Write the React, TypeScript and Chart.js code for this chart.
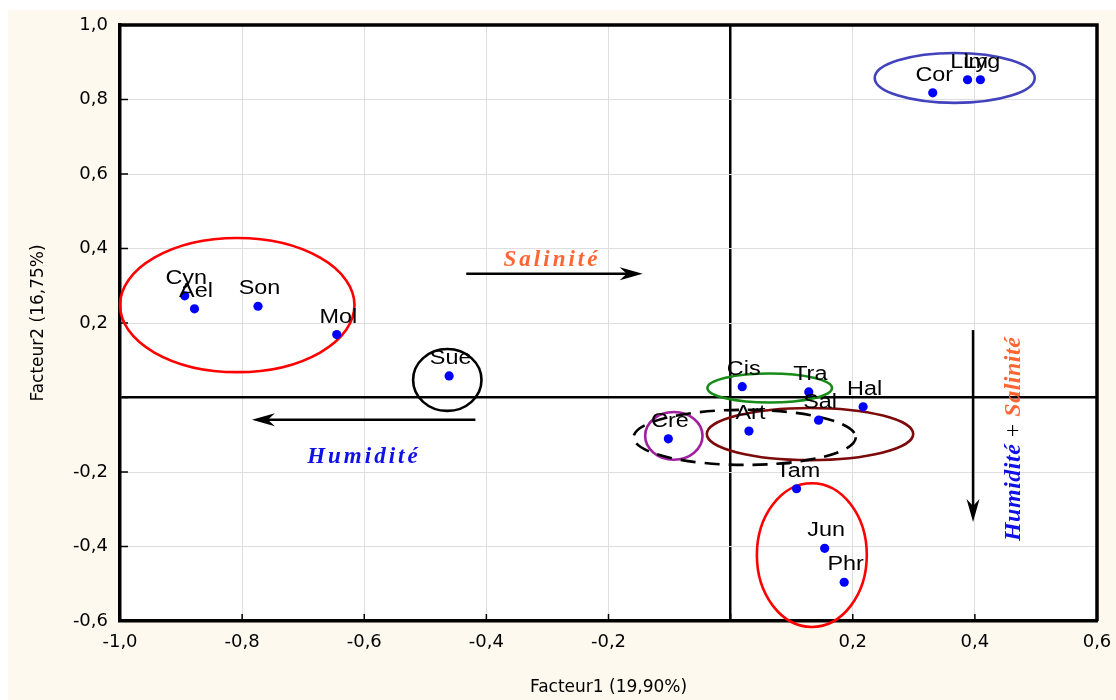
import React, { useEffect, useRef } from 'react';
import { Chart, registerables } from 'chart.js';

Chart.register(...registerables);

// ---- Data ----
const speciesLabels = ['Cor', 'Lim', 'Lyg', 'Cyn', 'Ael', 'Son', 'Mol', 'Sue', 'Cis', 'Tra', 'Hal', 'Sal', 'Art', 'Cre', 'Tam', 'Jun', 'Phr'];
const factor1 = [0.331, 0.388, 0.409, -0.894, -0.878, -0.774, -0.645, -0.461, 0.019, 0.128, 0.217, 0.144, 0.030, -0.102, 0.108, 0.154, 0.186];
const factor2 = [0.818, 0.853, 0.853, 0.273, 0.238, 0.245, 0.169, 0.058, 0.029, 0.015, -0.025, -0.061, -0.090, -0.111, -0.245, -0.405, -0.496];

const xTickValues = [-1.0, -0.8, -0.6, -0.4, -0.2, 0, 0.2, 0.4, 0.6];
const xTickLabels = ['-1,0', '-0,8', '-0,6', '-0,4', '-0,2', '', '0,2', '0,4', '0,6'];
const yTickValues = [-0.6, -0.4, -0.2, 0, 0.2, 0.4, 0.6, 0.8, 1.0];
const yTickLabels = ['-0,6', '-0,4', '-0,2', '', '0,2', '0,4', '0,6', '0,8', '1,0'];

// group ellipses (data units): centre x, centre y, radius x, radius y
const ellipseCx = [0.367, -0.808, -0.464, 0.064, -0.093, 0.130, 0.023, 0.133];
const ellipseCy = [0.858, 0.248, 0.047, 0.0255, -0.103, -0.098, -0.107, -0.423];
const ellipseRx = [0.131, 0.192, 0.056, 0.102, 0.047, 0.169, 0.182, 0.090];
const ellipseRy = [0.067, 0.180, 0.083, 0.039, 0.064, 0.070, 0.074, 0.193];
const ellipseColors = ['#4242bd', '#ff0000', '#000000', '#168c16', '#a020a0', '#7d0a0a', '#000000', '#ff0000'];
const ellipseDashed = [false, false, false, false, false, false, true, false];

// gradient arrows (data units)
const arrowX1 = [-0.433, -0.418, 0.397];
const arrowY1 = [0.332, -0.060, 0.181];
const arrowX2 = [-0.144, -0.784, 0.397];
const arrowY2 = [0.332, -0.060, -0.334];

// annotation texts (data units)
const salTextPos = [-0.295, 0.353];
const humTextPos = [-0.603, -0.175];
const vertTextPos = [0.474, -0.111];

const CREAM = '#fef9ef';
const BLUE_TXT = '#1010e8';
const ORANGE_TXT = '#ff6633';

function drawArrowHead(ctx: CanvasRenderingContext2D, x1: number, y1: number, x2: number, y2: number) {
  const ang = Math.atan2(y2 - y1, x2 - x1);
  ctx.save();
  ctx.translate(x2, y2);
  ctx.rotate(ang);
  ctx.beginPath();
  ctx.moveTo(0, 0);
  ctx.lineTo(-23, -6.5);
  ctx.lineTo(-16, 0);
  ctx.lineTo(-23, 6.5);
  ctx.closePath();
  ctx.fillStyle = '#000';
  ctx.fill();
  ctx.restore();
}

const decorPlugin = {
  id: 'decor',
  beforeDraw(chart: any) {
    const { ctx, chartArea: a, width, height } = chart;
    ctx.save();
    ctx.fillStyle = CREAM;
    ctx.fillRect(0, 0, width, height);
    ctx.fillStyle = '#ffffff';
    ctx.fillRect(a.left, a.top, a.right - a.left, a.bottom - a.top);
    ctx.restore();
  },
  beforeDatasetsDraw(chart: any) {
    const { ctx, chartArea: a } = chart;
    const xs = chart.scales.x;
    const ys = chart.scales.y;
    ctx.save();
    // top & right frame
    ctx.strokeStyle = '#000';
    ctx.lineWidth = 3.5;
    ctx.beginPath();
    ctx.moveTo(a.left - 1.5, a.top);
    ctx.lineTo(a.right, a.top);
    ctx.lineTo(a.right, a.bottom);
    ctx.stroke();
    // inward tick marks
    ctx.lineWidth = 1.5;
    xTickValues.forEach((v) => {
      const px = xs.getPixelForValue(v);
      ctx.beginPath();
      ctx.moveTo(px, a.bottom);
      ctx.lineTo(px, a.bottom - 7);
      ctx.stroke();
    });
    yTickValues.forEach((v) => {
      const py = ys.getPixelForValue(v);
      ctx.beginPath();
      ctx.moveTo(a.left, py);
      ctx.lineTo(a.left + 8, py);
      ctx.stroke();
    });
    // ellipses
    ctx.lineWidth = 2.6;
    ellipseCx.forEach((cx, i) => {
      const px = xs.getPixelForValue(cx);
      const py = ys.getPixelForValue(ellipseCy[i]);
      const rx = Math.abs(xs.getPixelForValue(cx + ellipseRx[i]) - px);
      const ry = Math.abs(ys.getPixelForValue(ellipseCy[i] + ellipseRy[i]) - py);
      ctx.strokeStyle = ellipseColors[i];
      ctx.setLineDash(ellipseDashed[i] ? [15, 9] : []);
      ctx.beginPath();
      ctx.ellipse(px, py, rx, ry, 0, 0, Math.PI * 2);
      ctx.stroke();
    });
    ctx.setLineDash([]);
    // arrows
    ctx.strokeStyle = '#000';
    ctx.lineWidth = 2.5;
    arrowX1.forEach((x1, i) => {
      const p1x = xs.getPixelForValue(x1);
      const p1y = ys.getPixelForValue(arrowY1[i]);
      const p2x = xs.getPixelForValue(arrowX2[i]);
      const p2y = ys.getPixelForValue(arrowY2[i]);
      const ang = Math.atan2(p2y - p1y, p2x - p1x);
      ctx.beginPath();
      ctx.moveTo(p1x, p1y);
      ctx.lineTo(p2x - Math.cos(ang) * 14, p2y - Math.sin(ang) * 14);
      ctx.stroke();
      drawArrowHead(ctx, p1x, p1y, p2x, p2y);
    });
    // horizontal texts
    const boldItalic = 'italic bold 23px "Liberation Serif", "Times New Roman", serif';
    ctx.font = boldItalic;
    ctx.textAlign = 'center';
    ctx.textBaseline = 'alphabetic';
    (ctx as any).letterSpacing = '3px';
    ctx.fillStyle = ORANGE_TXT;
    ctx.fillText('Salinité', xs.getPixelForValue(salTextPos[0]) + 1.5, ys.getPixelForValue(salTextPos[1]));
    ctx.fillStyle = BLUE_TXT;
    ctx.fillText('Humidité', xs.getPixelForValue(humTextPos[0]) + 1.5, ys.getPixelForValue(humTextPos[1]));
    (ctx as any).letterSpacing = '0.5px';
    // vertical text
    const segs = [
      { t: 'Humidité', f: 'italic bold 24px "Liberation Serif", serif', c: BLUE_TXT },
      { t: ' + ', f: '24px "Liberation Serif", serif', c: '#000000' },
      { t: 'Salinité', f: 'italic bold 24px "Liberation Serif", serif', c: ORANGE_TXT },
    ];
    let total = 0;
    const widths = segs.map((s) => {
      ctx.font = s.f;
      const w = ctx.measureText(s.t).width;
      total += w;
      return w;
    });
    ctx.save();
    ctx.translate(xs.getPixelForValue(vertTextPos[0]), ys.getPixelForValue(vertTextPos[1]));
    ctx.rotate(-Math.PI / 2);
    ctx.textAlign = 'left';
    let cur = -total / 2;
    segs.forEach((s, i) => {
      ctx.font = s.f;
      ctx.fillStyle = s.c;
      ctx.fillText(s.t, cur, 0);
      cur += widths[i];
    });
    ctx.restore();
    (ctx as any).letterSpacing = '0px';
    ctx.restore();
  },
  afterDatasetsDraw(chart: any) {
    const { ctx } = chart;
    const xs = chart.scales.x;
    const ys = chart.scales.y;
    ctx.save();
    ctx.font = '20px "Liberation Sans", Arial, sans-serif';
    ctx.fillStyle = '#000';
    ctx.textAlign = 'center';
    ctx.textBaseline = 'alphabetic';
    speciesLabels.forEach((lab, i) => {
      const px = xs.getPixelForValue(factor1[i]);
      const py = ys.getPixelForValue(factor2[i]);
      ctx.save();
      ctx.translate(px + 1.5, py - 12);
      ctx.scale(1.17, 1);
      ctx.fillText(lab, 0, 0);
      ctx.restore();
    });
    ctx.restore();
  },
};

const isZero = (c: any) => c.tick && Math.abs(c.tick.value) < 1e-9;
const zeroPad = (s: any) => {
  s.paddingTop = 0;
  s.paddingBottom = 0;
  s.paddingLeft = 0;
  s.paddingRight = 0;
};

export default function App() {
  const ref = useRef<HTMLCanvasElement | null>(null);
  useEffect(() => {
    if (!ref.current) return;
    const tickFont = { family: '"DejaVu Sans", sans-serif', size: 18 };
    const titleFont = { family: '"DejaVu Sans", sans-serif', size: 17 };
    const chart = new Chart(ref.current, {
      type: 'scatter',
      data: {
        datasets: [
          {
            label: 'Espèces',
            data: factor1.map((x, i) => ({ x, y: factor2[i] })),
            pointRadius: 4.6,
            pointHoverRadius: 4.6,
            pointBackgroundColor: '#0000ff',
            pointBorderWidth: 0,
            borderWidth: 0,
          },
        ],
      },
      options: {
        responsive: false,
        animation: false,
        events: [],
        layout: { padding: { top: 15, right: 19, left: 0, bottom: 0 } },
        plugins: {
          legend: { display: false },
          tooltip: { enabled: false },
          title: { display: false },
        },
        scales: {
          x: {
            type: 'linear',
            min: -1,
            max: 0.6,
            afterBuildTicks: (s: any) => {
              s.ticks = xTickValues.map((v) => ({ value: v }));
            },
            afterFit: (s: any) => {
              s.height = 79;
              zeroPad(s);
            },
            ticks: {
              autoSkip: false,
              maxRotation: 0,
              padding: 11,
              color: '#000',
              font: tickFont,
              callback: (_v: any, i: number) => xTickLabels[i],
            },
            grid: {
              drawTicks: false,
              color: (c: any) => (isZero(c) ? '#000' : '#dedede'),
              lineWidth: (c: any) => (isZero(c) ? 2.5 : 1),
            },
            border: { display: true, color: '#000', width: 3.5 },
            title: {
              display: true,
              text: 'Facteur1 (19,90%)',
              color: '#000',
              font: titleFont,
              padding: { top: 0, bottom: 2 },
            },
          },
          y: {
            type: 'linear',
            min: -0.6,
            max: 1.0,
            afterBuildTicks: (s: any) => {
              s.ticks = yTickValues.map((v) => ({ value: v }));
            },
            afterFit: (s: any) => {
              s.width = 112;
              zeroPad(s);
            },
            ticks: {
              autoSkip: false,
              padding: 12,
              color: '#000',
              font: tickFont,
              callback: (_v: any, i: number) => yTickLabels[i],
            },
            grid: {
              drawTicks: false,
              color: (c: any) => (isZero(c) ? '#000' : '#dedede'),
              lineWidth: (c: any) => (isZero(c) ? 2.5 : 1),
            },
            border: { display: true, color: '#000', width: 3.5 },
            title: {
              display: true,
              text: 'Facteur2 (16,75%)',
              color: '#000',
              font: titleFont,
              padding: { top: 20, bottom: 0 },
            },
          },
        },
      },
      plugins: [decorPlugin],
    } as any);
    return () => chart.destroy();
  }, []);

  return (
    <div style={{ position: 'fixed', left: 8, top: 10, width: 1108, height: 690 }}>
      <canvas ref={ref} width={1108} height={690} style={{ display: 'block', width: 1108, height: 690 }} />
    </div>
  );
}
